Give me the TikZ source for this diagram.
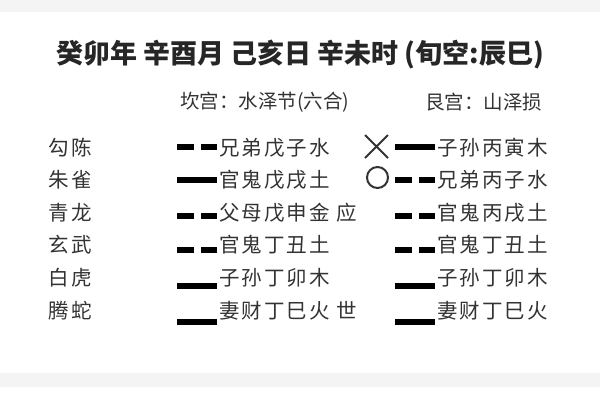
\documentclass[tikz,border=0pt]{standalone}
\usepackage{fontspec}
\newfontfamily\cjk{Noto Sans CJK SC}[LetterSpace=10]
\newfontfamily\cjktitle{Noto Sans CJK SC}
\definecolor{txtgray}{HTML}{333333}
\definecolor{titlegray}{HTML}{262626}
\definecolor{bandgray}{HTML}{F4F4F4}
% one line of a hexagram, #1 = left x, #2 = y
\newcommand{\yaoyang}[2]{\fill (#1,#2-3) rectangle (#1+40,#2+3);}
\newcommand{\yaoyin}[2]{\fill (#1,#2-3) rectangle (#1+17,#2+3);
  \fill (#1+24,#2-3) rectangle (#1+40,#2+3);}
\begin{document}
\begin{tikzpicture}[x=1pt,y=-1pt,
    every node/.style={text=txtgray,inner sep=0pt},
    titletext/.style={text=titlegray,font=\cjktitle\bfseries\fontsize{27}{32}\selectfont},
    subtext/.style={font=\cjktitle\fontsize{19.5}{24}\selectfont},
    guatext/.style={font=\cjk\fontsize{20.5}{24}\selectfont},
    marks/.style={draw=txtgray,line width=2pt}]
\useasboundingbox (0,0) rectangle (600,400);
\fill[white] (0,0) rectangle (600,400);
\fill[bandgray] (0,0) rectangle (600,12);
\fill[bandgray] (0,373) rectangle (600,387);

\node[titletext] (title) at (300,55) {癸卯年 辛酉月 己亥日 辛未时 (旬空:辰巳)};
\node[subtext,anchor=west] (kan) at (180,102) {坎宫：水泽节(六合)};
\node[subtext,anchor=west] (gen) at (425,102) {艮宫：山泽损};

\foreach \i/\gs/\ty/\ly/\lk/\lt/\rk/\rt in {
    1/勾陈/148/147/yin/兄弟戊子水/yang/子孙丙寅木,
    2/朱雀/180/180/yang/官鬼戊戌土/yin/兄弟丙子水,
    3/青龙/213/216/yin/父母戊申金 应/yin/官鬼丙戌土,
    4/玄武/245/250/yin/官鬼丁丑土/yin/官鬼丁丑土,
    5/白虎/278/286/yang/子孙丁卯木/yang/子孙丁卯木,
    6/腾蛇/311/322/yang/妻财丁巳火 世/yang/妻财丁巳火} {
    \node[guatext] (gs\i) at (70,\ty) {\gs};
    \csname yao\lk\endcsname{177}{\ly}
    \node[guatext,anchor=west] (left\i) at (219,\ty) {\lt};
    \csname yao\rk\endcsname{395}{\ly}
    \node[guatext,anchor=west] (right\i) at (437,\ty) {\rt};
}

% moving lines
\draw[marks] (365,135) -- (388,158) (365,158) -- (388,135);
\draw[marks] (377.5,177.5) circle (10.5pt);
\end{tikzpicture}
\end{document}
